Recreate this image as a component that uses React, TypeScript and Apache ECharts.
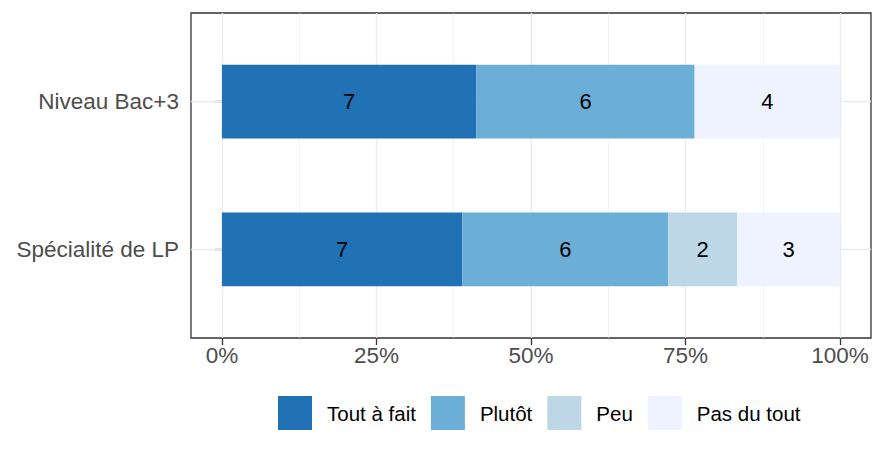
import React, { useEffect, useRef } from "react";
import * as echarts from "echarts";

const categories = ["Niveau Bac+3", "Spécialité de LP"];
const levels = ["Tout à fait", "Plutôt", "Peu", "Pas du tout"];
const toutAFait = [7, 7];
const plutot = [6, 6];
const peu = [0, 2];
const pasDuTout = [4, 3];
const colors = ["#2171b5", "#6baed6", "#bdd7e7", "#eff3ff"];
const xTicks = [0, 25, 50, 75, 100];
const xMinor = [12.5, 37.5, 62.5, 87.5];

const FONT = "'Liberation Sans', Arial, Helvetica, sans-serif";

export default function App() {
  const ref = useRef<HTMLDivElement>(null);
  useEffect(() => {
    if (!ref.current) return;
    const chart = echarts.init(ref.current, null, { renderer: "svg" });
    const counts = [toutAFait, plutot, peu, pasDuTout];
    const totals = categories.map((_, i) => counts.reduce((s, arr) => s + arr[i], 0));

    const barSeries = levels.map((name, k) => ({
      name,
      type: "bar",
      stack: "total",
      xAxisIndex: 1,
      yAxisIndex: 1,
      barWidth: "50%",
      z: 5,
      itemStyle: { color: colors[k] },
      label: {
        show: true,
        position: "inside",
        color: "#000",
        fontSize: 22,
        fontFamily: FONT,
        formatter: (p: any) => (p.data.count > 0 ? String(p.data.count) : ""),
      },
      data: categories.map((_, i) => ({
        value: (counts[k][i] / totals[i]) * 100,
        count: counts[k][i],
      })),
    }));

    const option: any = {
      animation: false,
      textStyle: { fontFamily: FONT },
      grid: [
        { left: 191, right: 1, top: 13, bottom: 116, show: true, borderColor: "#333333", borderWidth: 1.3, backgroundColor: "#fff", z: 0 },
        { left: 191, right: 1, top: 27.8, bottom: 130.8 },
      ],
      xAxis: [
        {
          type: "value",
          gridIndex: 0,
          min: -5,
          max: 105,
          axisLine: { show: false },
          splitLine: { show: false },
          axisTick: { show: true, customValues: xTicks, length: 7, lineStyle: { color: "#333333", width: 1.3 } },
          axisLabel: {
            customValues: xTicks,
            formatter: "{value}%",
            color: "#4d4d4d",
            fontSize: 22.5,
            fontFamily: FONT,
            margin: 6,
          },
        },
        { type: "value", gridIndex: 1, min: -5, max: 105, show: false, splitLine: { show: false } },
      ],
      yAxis: [
        { type: "value", gridIndex: 0, min: 0, max: 1, show: false, splitLine: { show: false } },
        {
          type: "category",
          gridIndex: 1,
          inverse: true,
          data: categories,
          axisLine: { show: false },
          splitLine: { show: false },
          axisTick: { show: true, alignWithLabel: true, length: 7, lineStyle: { color: "#333333", width: 1.3 } },
          axisLabel: { color: "#4d4d4d", fontSize: 22.5, fontFamily: FONT, margin: 12 },
        },
      ],
      legend: {
        data: levels,
        left: 278,
        top: 396,
        padding: 0,
        itemWidth: 34,
        itemHeight: 34,
        itemGap: 15,
        icon: "rect",
        textStyle: { color: "#000", fontSize: 20.5, fontFamily: FONT, padding: [0, 0, 0, 10] },
      },
      series: [
        {
          type: "line",
          xAxisIndex: 0,
          yAxisIndex: 0,
          data: [],
          z: 1,
          silent: true,
          markLine: {
            z: 1,
            silent: true,
            symbol: "none",
            label: { show: false },
            data: [
              ...xMinor.map((v) => ({ xAxis: v, lineStyle: { color: "#ebebeb", width: 0.6, type: "solid" } })),
              ...xTicks.map((v) => ({ xAxis: v, lineStyle: { color: "#ebebeb", width: 1.3, type: "solid" } })),
            ],
          },
        },
        {
          type: "line",
          xAxisIndex: 1,
          yAxisIndex: 1,
          data: [],
          z: 1,
          silent: true,
          markLine: {
            z: 1,
            silent: true,
            symbol: "none",
            label: { show: false },
            data: categories.map((c) => ({ yAxis: c, lineStyle: { color: "#ebebeb", width: 1.3, type: "solid" } })),
          },
        },
        ...barSeries,
      ],
    };
    chart.setOption(option);
    return () => chart.dispose();
  }, []);
  return <div ref={ref} style={{ width: 872, height: 454, position: "absolute", left: 0, top: 0 }} />;
}
